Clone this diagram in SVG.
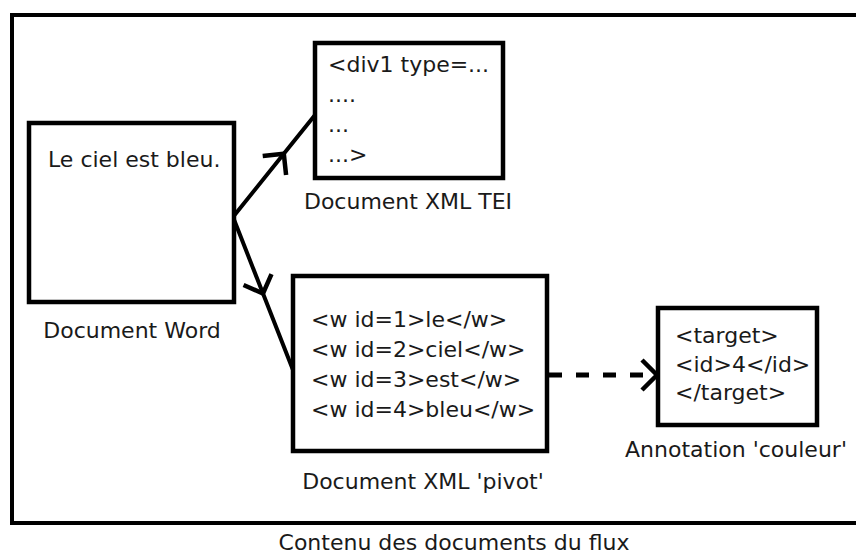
<svg xmlns="http://www.w3.org/2000/svg" width="856" height="555" viewBox="0 0 856 555">
  <style>
    .box { fill: #ffffff; stroke: #000000; stroke-width: 4.5; }
    .frame { fill: none; stroke: #000000; stroke-width: 4; }
    .t { font-family: "DejaVu Sans", "Liberation Sans", sans-serif; font-size: 22px; fill: #1a1a1a; }
    .lbl { text-anchor: middle; }
    .conn { fill: none; stroke: #000000; stroke-width: 4; }
    .dash { stroke-dasharray: 13 14; stroke-width: 5; }
  </style>
  <defs>
    <marker id="chev" markerUnits="userSpaceOnUse" markerWidth="40" markerHeight="40" viewBox="-20 -20 40 40" refX="0" refY="0" orient="auto">
      <path d="M -15,-15 L 0,0 L -15,15" fill="none" stroke="#000000" stroke-width="4.5"/>
    </marker>
  </defs>

  <g id="frame">
    <path class="frame" d="M 870,15 H 12 V 523 H 870"/>
    <text class="t lbl" x="454" y="550">Contenu des documents du flux</text>
  </g>

  <g id="connectors">
    <path class="conn" d="M 233,217 L 283.8,153.8 L 315,115" marker-mid="url(#chev)"/>
    <path class="conn" d="M 233,217 L 263,293.5 L 293,370" marker-mid="url(#chev)"/>
    <path class="conn dash" d="M 549,375 L 654,375"/>
    <path class="conn" d="M 654,375 L 657,375" marker-end="url(#chev)"/>
  </g>

  <g id="word">
    <rect class="box" x="29" y="123" width="205" height="179"/>
    <text class="t" x="48" y="167">Le ciel est bleu.</text>
    <text class="t lbl" x="132" y="338">Document Word</text>
  </g>

  <g id="tei">
    <rect class="box" x="315" y="43" width="188" height="135"/>
    <text class="t" x="328" y="72">&lt;div1 type=...</text>
    <text class="t" x="328" y="102">....</text>
    <text class="t" x="328" y="132">...</text>
    <text class="t" x="328" y="162">...&gt;</text>
    <text class="t lbl" x="408" y="209">Document XML TEI</text>
  </g>

  <g id="pivot">
    <rect class="box" x="293" y="276" width="254" height="175"/>
    <text class="t" x="311" y="327">&lt;w id=1&gt;le&lt;/w&gt;</text>
    <text class="t" x="311" y="357">&lt;w id=2&gt;ciel&lt;/w&gt;</text>
    <text class="t" x="311" y="387">&lt;w id=3&gt;est&lt;/w&gt;</text>
    <text class="t" x="311" y="417">&lt;w id=4&gt;bleu&lt;/w&gt;</text>
    <text class="t lbl" x="423" y="489">Document XML 'pivot'</text>
  </g>

  <g id="annotation">
    <rect class="box" x="658" y="308" width="159" height="117"/>
    <text class="t" x="675" y="343">&lt;target&gt;</text>
    <text class="t" x="675" y="372">&lt;id&gt;4&lt;/id&gt;</text>
    <text class="t" x="675" y="400">&lt;/target&gt;</text>
    <text class="t lbl" x="736" y="457">Annotation 'couleur'</text>
  </g>
</svg>
